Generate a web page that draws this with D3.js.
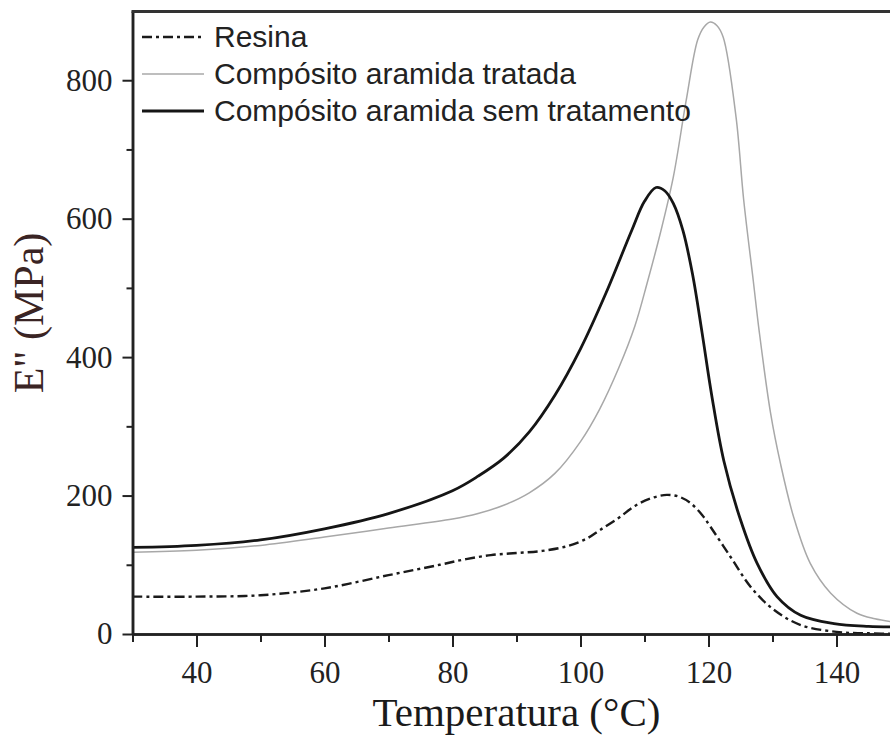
<!DOCTYPE html>
<html>
<head>
<meta charset="utf-8">
<script src="https://cdn.jsdelivr.net/npm/d3@7"></script>
<style>
  body { margin: 0; background: #fff; }
  svg { display: block; }
</style>
</head>
<body>
<svg id="chart"></svg>
<script>
var width = 890;
var height = 735;

// Resina
var resinaT = [30, 40, 50, 60, 70, 78, 82, 86, 90, 94, 98, 101, 103, 106, 108.5, 111, 113.5, 115.5, 117.2, 119, 120.3, 123.4, 126.6, 130.2, 134.4, 140, 145, 150];
var resinaE = [54, 54, 56, 66, 85, 100, 108, 114, 117, 120, 127, 138, 150, 168, 185, 196, 201, 198, 189, 172, 155, 112, 68, 35, 13, 3, 1, 0];

// Compósito aramida tratada
var tratadaT = [30, 40, 50, 60, 70, 80, 84, 88, 92, 96, 100, 103, 106, 108.5, 110.5, 112.5, 114.5, 116.5, 118.3, 119.3, 120.3, 121.3, 122.3, 124.3, 125.5, 127, 127.9, 129.7, 131.25, 133.3, 135.9, 139.1, 143.2, 146, 150];
var tratadaE = [118, 121, 128, 140, 153, 166, 174, 186, 204, 232, 278, 325, 385, 445, 510, 580, 660, 770, 858, 877, 884, 879, 862, 747, 627, 510, 439, 319, 246, 169, 102, 59, 30, 22, 16];

// Compósito aramida sem tratamento
var semT = [30, 40, 50, 60, 70, 80, 84, 88, 92, 96, 100, 104, 108, 110, 111.8, 113.2, 114.5, 116, 117.5, 119, 120.5, 122.4, 125, 127.6, 130.7, 134.4, 139.6, 145, 150];
var semE = [125, 128, 136, 152, 174, 207, 228, 254, 292, 345, 412, 493, 583, 625, 645, 640, 622, 583, 520, 435, 345, 250, 165, 102, 54, 27, 15, 11, 10];

var xMajor = [40, 60, 80, 100, 120, 140];
var xMinor = [30, 50, 70, 90, 110, 130, 150];
var yMajor = [0, 200, 400, 600, 800];
var yMinor = [100, 300, 500, 700];

var legendNames = ['Resina', 'Compósito aramida tratada', 'Compósito aramida sem tratamento'];

var serif = "'Liberation Serif', 'Times New Roman', serif";
var sans = "'Liberation Sans', Arial, sans-serif";

var plot = {left: 132.5, right: 900.5, top: 11, bottom: 634};

var svg = d3.select('#chart')
  .attr('width', width)
  .attr('height', height);

var x = d3.scaleLinear().domain([30, 150]).range([plot.left, plot.right]);
var y = d3.scaleLinear().domain([0, 900]).range([plot.bottom, plot.top]);

// styles for each series
var series = [
  {name: legendNames[0], t: resinaT, e: resinaE, color: '#1a1a1a', w: 2.4, dash: '10,4,3,4'},
  {name: legendNames[1], t: tratadaT, e: tratadaE, color: '#a8a8a8', w: 1.5, dash: null},
  {name: legendNames[2], t: semT, e: semE, color: '#151515', w: 2.8, dash: null}
];

var line = d3.line()
  .x(function(d){ return x(d[0]); })
  .y(function(d){ return y(d[1]); })
  .curve(d3.curveCatmullRom.alpha(0.5));

svg.append('g').selectAll('path')
  .data(series).enter()
  .append('path')
  .attr('fill', 'none')
  .attr('stroke', function(d){ return d.color; })
  .attr('stroke-width', function(d){ return d.w; })
  .attr('stroke-dasharray', function(d){ return d.dash; })
  .attr('stroke-linejoin', 'round')
  .attr('d', function(d){ return line(d3.zip(d.t, d.e)); });

// axes
function styleAxis(g, w) {
  g.select('.domain').attr('stroke', '#222').attr('stroke-width', w);
  g.selectAll('.tick line').attr('stroke', '#222').attr('stroke-width', 2);
  g.selectAll('.tick text').attr('fill', '#222')
    .style('font-family', serif).style('font-size', '31px');
}

var xAxisMinor = svg.append('g')
  .attr('transform', 'translate(0,' + plot.bottom + ')')
  .call(d3.axisBottom(x).tickValues(xMinor).tickSize(8).tickSizeOuter(0).tickFormat(''));
styleAxis(xAxisMinor, 2.5);

var xAxis = svg.append('g')
  .attr('transform', 'translate(0,' + plot.bottom + ')')
  .call(d3.axisBottom(x).tickValues(xMajor).tickSize(13).tickSizeOuter(0).tickPadding(14).tickFormat(d3.format('d')));
styleAxis(xAxis, 2.5);

var yAxisMinor = svg.append('g')
  .attr('transform', 'translate(' + plot.left + ',0)')
  .call(d3.axisLeft(y).tickValues(yMinor).tickSize(6).tickSizeOuter(0).tickFormat(''));
styleAxis(yAxisMinor, 2.5);

var yAxis = svg.append('g')
  .attr('transform', 'translate(' + plot.left + ',0)')
  .call(d3.axisLeft(y).tickValues(yMajor).tickSize(10).tickSizeOuter(0).tickPadding(10).tickFormat(d3.format('d')));
styleAxis(yAxis, 2.5);

// top frame
svg.append('line')
  .attr('x1', plot.left - 1).attr('x2', plot.right)
  .attr('y1', plot.top + 0.5).attr('y2', plot.top + 0.5)
  .attr('stroke', '#333').attr('stroke-width', 3);

// axis titles
svg.append('text')
  .attr('x', (plot.left + plot.right) / 2)
  .attr('y', 726)
  .attr('text-anchor', 'middle')
  .attr('fill', '#1a1a1a')
  .style('font-family', serif).style('font-size', '41px')
  .text('Temperatura (°C)');

svg.append('text')
  .attr('transform', 'translate(43,313) rotate(-90)')
  .attr('text-anchor', 'middle')
  .attr('fill', '#3a2424')
  .style('font-family', serif).style('font-size', '42px')
  .text('E" (MPa)');

// legend
var legend = svg.append('g').selectAll('g')
  .data(series).enter()
  .append('g')
  .attr('transform', function(d, i){ return 'translate(142,' + (37 + i * 37) + ')'; });

legend.append('line')
  .attr('x1', 0).attr('x2', 62)
  .attr('stroke', function(d){ return d.color; })
  .attr('stroke-width', function(d){ return d.w; })
  .attr('stroke-dasharray', function(d){ return d.dash; });

legend.append('text')
  .attr('x', 72).attr('y', 10)
  .attr('fill', '#222')
  .style('font-family', sans).style('font-size', '30px')
  .text(function(d){ return d.name; });
</script>
</body>
</html>
